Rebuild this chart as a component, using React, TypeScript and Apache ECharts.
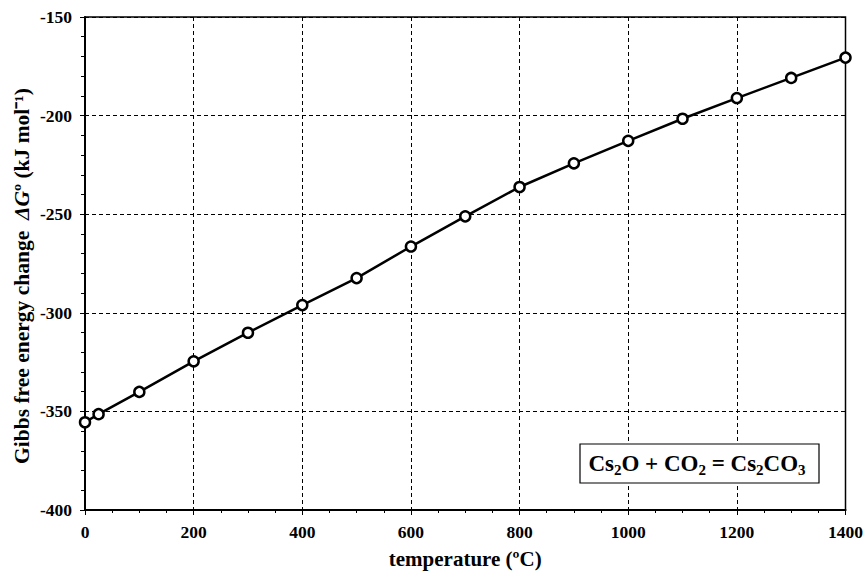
import React, { useEffect, useRef } from "react";
import * as echarts from "echarts";

const temperatures = [0, 25, 100, 200, 300, 400, 500, 600, 700, 800, 900, 1000, 1100, 1200, 1300, 1400];
const deltaG = [-355.5, -351.4, -340.1, -324.6, -310.1, -296.1, -282.4, -266.4, -251.1, -236.2, -224.2, -212.8, -201.6, -191.1, -180.9, -170.6];

const FONT = "Liberation Serif";

export default function App() {
  const ref = useRef<HTMLDivElement>(null);
  useEffect(() => {
    if (!ref.current) return;
    const chart = echarts.init(ref.current, undefined, { renderer: "svg" });
    const data = temperatures.map((t, i) => [t, deltaG[i]]);
    chart.setOption({
      animation: false,
      backgroundColor: "#fff",
      grid: {
        left: 85,
        right: 19,
        top: 17,
        bottom: 63,
        show: true,
        borderColor: "#000",
        borderWidth: 1.5,
        backgroundColor: "transparent",
      },
      xAxis: {
        type: "value",
        min: 0,
        max: 1400,
        interval: 200,
        name: "temperature (ºC)",
        nameLocation: "middle",
        nameGap: 38,
        nameTextStyle: { fontFamily: FONT, fontWeight: "bold", fontSize: 21, color: "#000" },
        axisLine: { show: true, lineStyle: { color: "#000", width: 2 } },
        axisTick: { show: true, length: 5, inside: false, lineStyle: { color: "#000", width: 1 } },
        minorTick: { show: true, splitNumber: 4, length: 3, lineStyle: { color: "#000", width: 1 } },
        axisLabel: {
          fontFamily: FONT,
          fontWeight: "bold",
          fontSize: 17.5,
          color: "#000",
          margin: 13,
          formatter: (v: number) => String(v),
        },
        splitLine: { show: true, lineStyle: { color: "#000", width: 1, type: [4, 3] } },
      },
      yAxis: {
        type: "value",
        min: -400,
        max: -150,
        interval: 50,
        axisLine: { show: true, lineStyle: { color: "#000", width: 2 } },
        axisTick: { show: true, length: 5, inside: false, lineStyle: { color: "#000", width: 1 } },
        minorTick: { show: true, splitNumber: 5, length: 4, lineStyle: { color: "#000", width: 1 } },
        axisLabel: { fontFamily: FONT, fontWeight: "bold", fontSize: 17.5, color: "#000", margin: 13 },
        splitLine: { show: true, lineStyle: { color: "#000", width: 1, type: [4, 3] } },
      },
      series: [
        {
          type: "line",
          data,
          symbol: "circle",
          symbolSize: 10,
          lineStyle: { color: "#000", width: 2.5 },
          itemStyle: { color: "#fff", borderColor: "#000", borderWidth: 2.5 },
          clip: false,
          z: 5,
        },
      ],
      graphic: [
        {
          type: "text",
          x: 22,
          y: 276,
          rotation: Math.PI / 2,
          style: {
            text: "{a|Gibbs free energy change  }{i|ΔG}{a|º (kJ mol⁻¹)}",
            align: "center",
            verticalAlign: "middle",
            rich: {
              a: { fontFamily: FONT, fontWeight: "bold", fontSize: 21.5, color: "#000" },
              i: { fontFamily: FONT, fontWeight: "bold", fontStyle: "italic", fontSize: 21.5, color: "#000" },
            },
          },
        },
        {
          type: "rect",
          shape: { x: 580, y: 444, width: 239, height: 39 },
          style: { fill: "#fff", stroke: "#000", lineWidth: 1.2 },
          z: 10,
        },
        {
          type: "text",
          x: 697,
          y: 463,
          style: {
            text: "{m|Cs}{s|2}{m|O + CO}{s|2}{m| = Cs}{s|2}{m|CO}{s|3}",
            align: "center",
            verticalAlign: "middle",
            rich: {
              m: { fontFamily: FONT, fontWeight: "bold", fontSize: 23, color: "#000", lineHeight: 28, verticalAlign: "middle" },
              s: { fontFamily: FONT, fontWeight: "bold", fontSize: 15, color: "#000", lineHeight: 15, verticalAlign: "bottom" },
            },
          },
          z: 11,
        },
      ],
    });
    return () => chart.dispose();
  }, []);
  return (
    <div
      ref={ref}
      style={{ position: "absolute", left: 0, top: 0, width: 866, height: 574 }}
    />
  );
}
